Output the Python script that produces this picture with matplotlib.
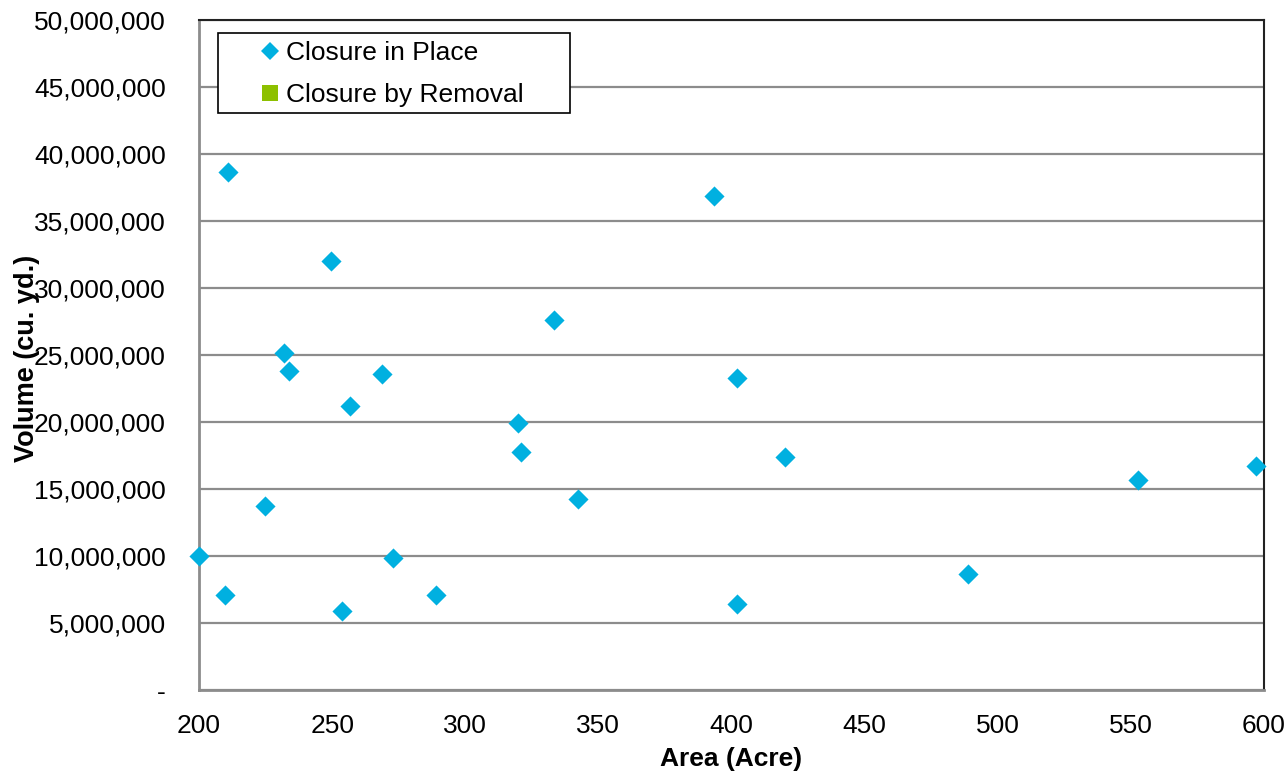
import numpy as np
import matplotlib.pyplot as plt
from matplotlib.ticker import FuncFormatter
from matplotlib.lines import Line2D
from matplotlib.patches import Rectangle

plt.rcParams['font.family'] = ['Liberation Sans', 'DejaVu Sans']

# Area (acre) and volume (cu. yd.) of closure-in-place sites
area = [200, 209.8, 210.9, 224.8, 231.9, 233.8, 249.6, 253.7, 256.7, 268.7,
        272.9, 289.0, 319.8, 320.9, 333.3, 342.3, 393.4, 402.1, 402.1, 420.1,
        488.8, 552.7, 597.0]
volume = [10.0e6, 7.1e6, 38.65e6, 13.7e6, 25.15e6, 23.8e6, 32.0e6, 5.9e6, 21.2e6, 23.6e6,
          9.85e6, 7.1e6, 19.93e6, 17.75e6, 27.6e6, 14.23e6, 36.85e6, 23.28e6, 6.45e6, 17.4e6,
          8.68e6, 15.7e6, 16.72e6]

x_ticks = [200, 250, 300, 350, 400, 450, 500, 550, 600]
y_ticks = np.arange(0, 50_000_001, 5_000_000)

blue = '#00B0E0'
green = '#8DC000'
grid_gray = '#8C8C8C'

fig = plt.figure(figsize=(12.87, 7.75), dpi=100)
ax = fig.add_axes([199 / 1287, 1 - 690 / 775, 1065 / 1287, 670 / 775])

ax.scatter(area, volume, marker='D', s=105, color=blue, linewidths=0, zorder=3, clip_on=False)

ax.set_xlim(200, 600)
ax.set_ylim(0, 50_000_000)
ax.set_xticks(x_ticks)
ax.set_yticks(y_ticks)
ax.yaxis.set_major_formatter(FuncFormatter(lambda v, p: '-' if v == 0 else f'{int(v):,}'))

ax.tick_params(axis='both', length=0, labelsize=19)
ax.tick_params(axis='y', pad=24)
ax.tick_params(axis='x', pad=17)

ax.grid(axis='y', color=grid_gray, linewidth=1.6)
ax.set_axisbelow(True)

for side in ['left', 'bottom']:
    ax.spines[side].set_color(grid_gray)
    ax.spines[side].set_linewidth(2)
for side in ['top', 'right']:
    ax.spines[side].set_color('#222222')
    ax.spines[side].set_linewidth(1.5)

ax.set_xlabel('Area (Acre)', fontsize=19, fontweight='bold')
ax.xaxis.set_label_coords(0.5, -0.085)
ax.set_ylabel('Volume (cu. yd.)', fontsize=19.5, fontweight='bold')
ax.yaxis.set_label_coords(-0.149, 0.495)

# legend box drawn separately so the entries can sit with Excel-like padding
ax.add_patch(Rectangle((19 / 1065, (690 - 113) / 670), 352 / 1065, 80 / 670,
                       transform=ax.transAxes, facecolor='white', edgecolor='black',
                       linewidth=1.2, zorder=4, clip_on=False))

handles = [
    Line2D([], [], marker='D', color=blue, linestyle='none', markersize=9, markeredgewidth=0),
    Line2D([], [], marker='s', color=green, linestyle='none', markersize=11, markeredgewidth=0),
]
leg = ax.legend(handles, ['Closure in Place', 'Closure by Removal'],
                loc='upper left', bbox_to_anchor=(58 / 1065, (690 - 41) / 670),
                fontsize=19, frameon=False, handletextpad=0.1, handlelength=1.0,
                borderpad=0, labelspacing=0.68, borderaxespad=0)
leg.set_zorder(5)

fig.savefig('out.png', dpi=100)
